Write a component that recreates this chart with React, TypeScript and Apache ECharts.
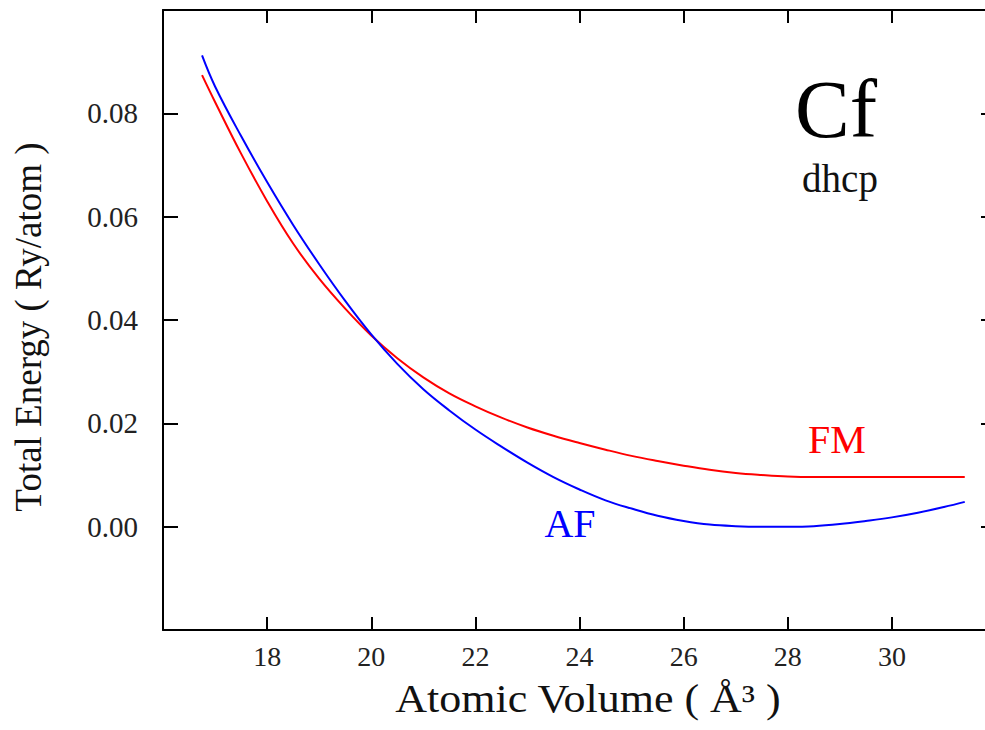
import React, { useEffect, useRef } from "react";
import * as echarts from "echarts";

// Atomic volume (Å^3) and total energy (Ry/atom)
const afVolume = [16.75, 17.0, 17.5, 18.0, 18.5, 19.0, 19.5, 20.0, 20.5, 21.0, 21.5, 22.0, 22.5, 23.0, 23.5, 24.0, 24.5, 25.0, 25.5, 26.0, 26.5, 27.0, 27.5, 28.0, 28.5, 29.0, 29.5, 30.0, 30.5, 31.0, 31.4];
const afEnergy = [0.0912, 0.0852, 0.0756, 0.0667, 0.0584, 0.0508, 0.0437, 0.0372, 0.0315, 0.0266, 0.0225, 0.0188, 0.0155, 0.0124, 0.0096, 0.0072, 0.0051, 0.0035, 0.0021, 0.0011, 0.0004, 0.0001, 0.0, 0.0, 0.0001, 0.0005, 0.0011, 0.0018, 0.0027, 0.0038, 0.0048];

const fmVolume = [16.75, 17.0, 17.5, 18.0, 18.5, 19.0, 19.5, 20.0, 20.5, 21.0, 21.5, 22.0, 22.5, 23.0, 23.5, 24.0, 24.5, 25.0, 25.5, 26.0, 26.5, 27.0, 27.5, 28.0, 28.5, 29.5, 30.5, 31.4];
const fmEnergy = [0.0874, 0.0822, 0.0722, 0.063, 0.0548, 0.048, 0.0422, 0.037, 0.0326, 0.0289, 0.0258, 0.0233, 0.0211, 0.0192, 0.0176, 0.0162, 0.0149, 0.0137, 0.0127, 0.0118, 0.011, 0.0104, 0.01, 0.0097, 0.0096, 0.0096, 0.0096, 0.0096];

const xTicks = { min: 16, max: 32, interval: 2 };
const yTicks = { min: -0.02, max: 0.1, interval: 0.02 };

const xTitle = "Atomic Volume ( Å³ )";
const yTitle = "Total Energy ( Ry/atom )";

const SERIF = "'Liberation Serif', 'DejaVu Serif', serif";

function zip(xs: number[], ys: number[]) {
  return xs.map((x, i) => [x, ys[i]]);
}

export default function App() {
  const ref = useRef<HTMLDivElement | null>(null);

  useEffect(() => {
    if (!ref.current) return;
    const chart = echarts.init(ref.current, undefined, { renderer: "svg" });

    const axisLine = { show: true, onZero: false, lineStyle: { color: "#000", width: 2 } };
    const xTickFmt = (v: number) => (v === xTicks.min || v === xTicks.max ? "" : String(v));
    const yTickFmt = (v: number) => {
      if (Math.abs(v - yTicks.min) < 1e-9 || Math.abs(v - yTicks.max) < 1e-9) return "";
      if (Math.abs(v) < 1e-9) return "0.00";
      return v.toFixed(2);
    };

    chart.setOption({
      animation: false,
      backgroundColor: "#fff",
      grid: { left: 163, top: 10, right: -11, bottom: 100, outerBoundsMode: "none", containLabel: false },
      xAxis: [
        {
          type: "value", position: "bottom", ...xTicks,
          axisLine,
          axisTick: { show: true, inside: true, length: 13, lineStyle: { color: "#000", width: 2 } },
          axisLabel: { formatter: xTickFmt, fontFamily: SERIF, fontSize: 28, color: "#222", margin: 12 },
          splitLine: { show: false },
        },
        {
          type: "value", position: "top", ...xTicks,
          axisLine,
          axisTick: { show: true, inside: true, length: 13, lineStyle: { color: "#000", width: 2 } },
          axisLabel: { show: false },
          splitLine: { show: false },
        },
      ],
      yAxis: [
        {
          type: "value", position: "left", ...yTicks,
          axisLine,
          axisTick: { show: true, inside: true, length: 15, lineStyle: { color: "#000", width: 2 } },
          axisLabel: { formatter: yTickFmt, fontFamily: SERIF, fontSize: 29, color: "#222", margin: 25 },
          splitLine: { show: false },
        },
        {
          type: "value", position: "right", ...yTicks,
          axisLine,
          axisTick: { show: true, inside: true, length: 15, lineStyle: { color: "#000", width: 2 } },
          axisLabel: { show: false },
          splitLine: { show: false },
        },
      ],
      series: [
        {
          name: "FM", type: "line", xAxisIndex: 0, yAxisIndex: 0,
          data: zip(fmVolume, fmEnergy), smooth: 0.4, symbol: "none",
          lineStyle: { color: "#ff0000", width: 2 },
        },
        {
          name: "AF", type: "line", xAxisIndex: 0, yAxisIndex: 0,
          data: zip(afVolume, afEnergy), smooth: 0.4, symbol: "none",
          lineStyle: { color: "#0000ff", width: 2 },
        },
      ],
      graphic: [
        { type: "text", x: 836, y: 109, style: { text: "Cf", font: `82px ${SERIF}`, fill: "#000", align: "center", verticalAlign: "middle" } },
        { type: "text", x: 840, y: 178, style: { text: "dhcp", font: `39px ${SERIF}`, fill: "#111", align: "center", verticalAlign: "middle" } },
        { type: "text", x: 837, y: 439, style: { text: "FM", font: `40px ${SERIF}`, fill: "#ff0000", align: "center", verticalAlign: "middle" } },
        { type: "text", x: 570, y: 523, style: { text: "AF", font: `40px ${SERIF}`, fill: "#0000ff", align: "center", verticalAlign: "middle" } },
        { type: "text", x: 588, y: 699, scaleX: 1.1, style: { text: xTitle, font: `40px ${SERIF}`, fill: "#111", align: "center", verticalAlign: "middle" } },
        { type: "text", x: 28, y: 327, rotation: Math.PI / 2, style: { text: yTitle, font: `37px ${SERIF}`, fill: "#111", align: "center", verticalAlign: "middle" } },
      ],
    });

    return () => chart.dispose();
  }, []);

  return (
    <div style={{ position: "fixed", left: 0, top: 0, width: 985, height: 730, overflow: "hidden", background: "#fff" }}>
      <div ref={ref} style={{ width: 985, height: 730 }} />
    </div>
  );
}
